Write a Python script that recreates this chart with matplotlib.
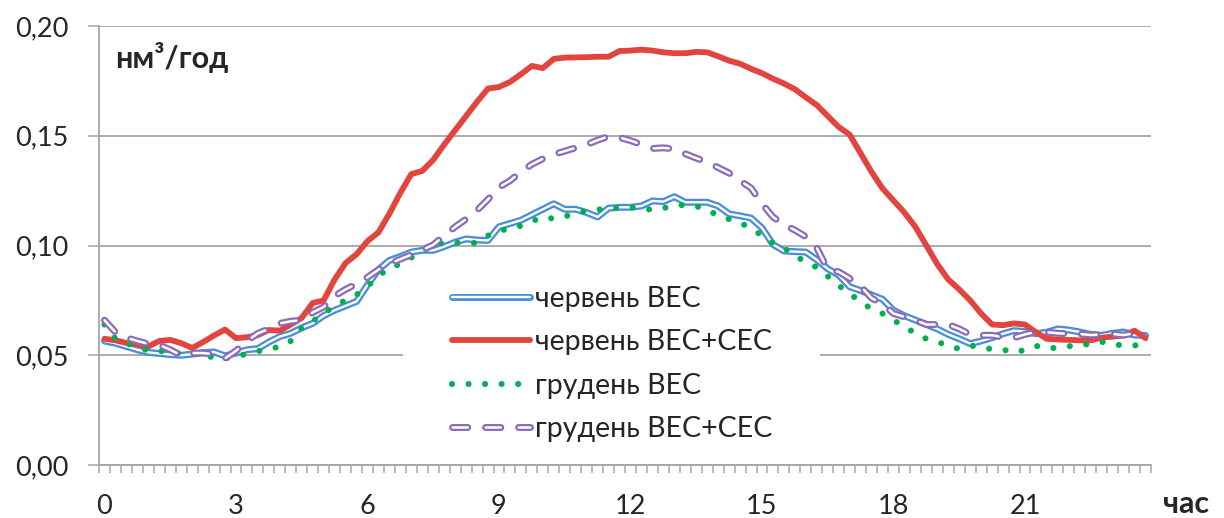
import numpy as np
import matplotlib
matplotlib.use("Agg")
import matplotlib.pyplot as plt
from matplotlib.patches import Rectangle
from matplotlib.ticker import FuncFormatter

plt.rcParams['font.family'] = ['Lato', 'Open Sans', 'DejaVu Sans']
plt.rcParams['lines.scale_dashes'] = False

# ---------------- data ----------------
hours = np.arange(96) * 0.25
xtick_hours = [0, 3, 6, 9, 12, 15, 18, 21]
xtick_labels = ['0', '3', '6', '9', '12', '15', '18', '21']
yticks = [0.00, 0.05, 0.10, 0.15, 0.20]
series_labels = ['червень ВЕС', 'червень ВЕС+СЕС', 'грудень ВЕС', 'грудень ВЕС+СЕС']

june_wes = [
    0.0565, 0.0555, 0.0540, 0.0525, 0.0513, 0.0508, 0.0503, 0.0500,
    0.0505, 0.0512, 0.0515, 0.0497, 0.0510, 0.0525, 0.0530, 0.0560,
    0.0585, 0.0600, 0.0625, 0.0645, 0.0680, 0.0705, 0.0725, 0.0745,
    0.0820, 0.0890, 0.0932, 0.0950, 0.0970, 0.0978, 0.0978, 0.0995,
    0.1015, 0.1030, 0.1025, 0.1023, 0.1085, 0.1100, 0.1115, 0.1140,
    0.1165, 0.1190, 0.1165, 0.1165, 0.1150, 0.1130, 0.1170, 0.1174,
    0.1174, 0.1180, 0.1203, 0.1200, 0.1222, 0.1197, 0.1197, 0.1197,
    0.1180, 0.1144, 0.1135, 0.1125, 0.1080, 0.1005, 0.0975, 0.0972,
    0.0970, 0.0935, 0.0894, 0.0865, 0.0812, 0.0795, 0.0775, 0.0755,
    0.0705, 0.0680, 0.0660, 0.0640, 0.0620, 0.0595, 0.0575, 0.0553,
    0.0565, 0.0580, 0.0598, 0.0612, 0.0608, 0.0598, 0.0605, 0.0620,
    0.0615, 0.0606, 0.0595, 0.0591, 0.0600, 0.0606, 0.0592, 0.0590,
]

june_wes_ses = [
    0.0575, 0.0568, 0.0556, 0.0548, 0.0540, 0.0565, 0.0570, 0.0555,
    0.0533, 0.0560, 0.0590, 0.0617, 0.0578, 0.0582, 0.0592, 0.0615,
    0.0612, 0.0640, 0.0670, 0.0738, 0.0750, 0.0845, 0.0920, 0.0960,
    0.1020, 0.1060, 0.1145, 0.1240, 0.1325, 0.1340, 0.1390, 0.1460,
    0.1525, 0.1590, 0.1655, 0.1715, 0.1722, 0.1745, 0.1780, 0.1818,
    0.1808, 0.1850, 0.1856, 0.1857, 0.1858, 0.1860, 0.1860, 0.1886,
    0.1888, 0.1892, 0.1888, 0.1880, 0.1876, 0.1876, 0.1882, 0.1880,
    0.1862, 0.1842, 0.1828, 0.1805, 0.1785, 0.1760, 0.1738, 0.1712,
    0.1675, 0.1640, 0.1590, 0.1540, 0.1505, 0.1420, 0.1335, 0.1260,
    0.1205, 0.1150, 0.1085, 0.1000, 0.0915, 0.0845, 0.0800, 0.0750,
    0.0690, 0.0640, 0.0637, 0.0645, 0.0640, 0.0605, 0.0575, 0.0572,
    0.0570, 0.0568, 0.0568, 0.0580, 0.0585, 0.0590, 0.0612, 0.0578,
]

dec_wes = [
    0.0640, 0.0575, 0.0555, 0.0535, 0.0522, 0.0520, 0.0512, 0.0508,
    0.0508, 0.0500, 0.0490, 0.0485, 0.0497, 0.0505, 0.0518, 0.0530,
    0.0538, 0.0565, 0.0625, 0.0655, 0.0690, 0.0725, 0.0750, 0.0775,
    0.0815, 0.0860, 0.0900, 0.0915, 0.0945, 0.0975, 0.1005, 0.1012,
    0.1013, 0.1010, 0.1012, 0.1045, 0.1068, 0.1076, 0.1090, 0.1110,
    0.1130, 0.1122, 0.1132, 0.1147, 0.1158, 0.1164, 0.1167, 0.1172,
    0.1174, 0.1170, 0.1162, 0.1170, 0.1182, 0.1185, 0.1180, 0.1158,
    0.1140, 0.1120, 0.1103, 0.1080, 0.1045, 0.1010, 0.0990, 0.0950,
    0.0928, 0.0900, 0.0860, 0.0818, 0.0780, 0.0745, 0.0710, 0.0690,
    0.0660, 0.0630, 0.0600, 0.0575, 0.0563, 0.0540, 0.0530, 0.0545,
    0.0535, 0.0528, 0.0526, 0.0512, 0.0525, 0.0543, 0.0530, 0.0535,
    0.0541, 0.0546, 0.0552, 0.0561, 0.0550, 0.0545, 0.0545, 0.0545,
]

dec_wes_ses = [
    0.0660, 0.0605, 0.0580, 0.0565, 0.0552, 0.0547, 0.0525, 0.0500,
    0.0510, 0.0510, 0.0505, 0.0486, 0.0520, 0.0565, 0.0600, 0.0620,
    0.0645, 0.0655, 0.0660, 0.0695, 0.0720, 0.0770, 0.0800, 0.0825,
    0.0855, 0.0890, 0.0917, 0.0938, 0.0958, 0.0980, 0.1003, 0.1045,
    0.1085, 0.1120, 0.1160, 0.1210, 0.1265, 0.1295, 0.1335, 0.1370,
    0.1395, 0.1415, 0.1430, 0.1445, 0.1460, 0.1480, 0.1497, 0.1492,
    0.1478, 0.1460, 0.1442, 0.1445, 0.1440, 0.1418, 0.1398, 0.1380,
    0.1355, 0.1330, 0.1295, 0.1262, 0.1190, 0.1130, 0.1095, 0.1070,
    0.1040, 0.0990, 0.0890, 0.0880, 0.0850, 0.0815, 0.0760, 0.0735,
    0.0690, 0.0675, 0.0660, 0.0640, 0.0640, 0.0640, 0.0620, 0.0595,
    0.0591, 0.0591, 0.0582, 0.0580, 0.0595, 0.0606, 0.0605, 0.0600,
    0.0598, 0.0597, 0.0592, 0.0595, 0.0597, 0.0592, 0.0600, 0.0595,
]

# ---------------- figure ----------------
W, H = 1224, 518
fig = plt.figure(figsize=(W / 100, H / 100), dpi=100)
ax = fig.add_axes([99 / W, 1 - 465 / H, (1151 - 99) / W, (465 - 26) / H])

grey = '#A6A6A6'
textc = '#262626'

ax.set_xlim(-0.125, 23.875)
ax.set_ylim(0, 0.20)
ax.set_axisbelow(True)
ax.yaxis.grid(True, color=grey, lw=1.3)
for s in ('top', 'right'):
    ax.spines[s].set_visible(False)
for s in ('left', 'bottom'):
    ax.spines[s].set_color(grey)
    ax.spines[s].set_linewidth(1.3)

ax.set_yticks(yticks)
ax.yaxis.set_major_formatter(FuncFormatter(lambda v, p: f"{v:.2f}".replace('.', ',')))
ax.tick_params(axis='y', length=8, width=1.1, color=grey, pad=14,
               labelsize=19.5, labelcolor=textc)

ax.set_xticks(xtick_hours)
ax.set_xticklabels(xtick_labels)
ax.set_xticks(np.arange(97) * 0.25 - 0.125, minor=True)
ax.tick_params(axis='x', which='major', length=0, pad=21, labelsize=19.5, labelcolor=textc)
ax.tick_params(axis='x', which='minor', length=5.8, width=1.1, color=grey)

# legend background (white box interrupting gridline)
ax.add_patch(Rectangle((403 / W, 1 - 460 / H), (820 - 403) / W, (460 - 268) / H,
                       transform=fig.transFigure, facecolor='white',
                       edgecolor='none', zorder=1))

c_blue = '#4A8FD6'
c_red = '#E2443E'
c_green = '#00B050'
c_purple = '#8B6BB8'

b_out, = ax.plot(hours, june_wes, color=c_blue, lw=5.0, solid_joinstyle='round',
                 solid_capstyle='round', zorder=3)
b_in, = ax.plot(hours, june_wes, color='white', lw=1.7, solid_joinstyle='round',
                solid_capstyle='round', zorder=3.01)
r_ln, = ax.plot(hours, june_wes_ses, color=c_red, lw=4.2, solid_joinstyle='round',
                solid_capstyle='round', zorder=4)
g_ln, = ax.plot(hours, dec_wes, color=c_green, lw=4.4, linestyle=(0, (0.01, 11.9)),
                dash_capstyle='round', zorder=5)
p_out, = ax.plot(hours, dec_wes_ses, color=c_purple, lw=5.0, linestyle=(0, (11, 12.8)),
                 dash_capstyle='round', dash_joinstyle='round', zorder=6)
p_in, = ax.plot(hours, dec_wes_ses, color='white', lw=1.8, linestyle=(0, (11, 12.8)),
                dash_capstyle='round', dash_joinstyle='round', zorder=6.01)

leg = ax.legend([(b_out, b_in), r_ln, g_ln, (p_out, p_in)], series_labels,
                loc='center left', bbox_to_anchor=(452 / W, 1 - 364 / H),
                bbox_transform=fig.transFigure, frameon=False, borderpad=0,
                borderaxespad=0, handlelength=2.75, handletextpad=0.18,
                labelspacing=0.6, fontsize=20.5)
for t in leg.get_texts():
    t.set_color(textc)
leg.set_zorder(10)

fig.text(115 / W, 1 - 68 / H, 'нм³/год', fontsize=22, fontweight='bold',
         ha='left', va='baseline', color=textc)
fig.text(1163 / W, 1 - 513 / H, 'час', fontsize=22, fontweight='bold',
         ha='left', va='baseline', color=textc)

fig.savefig('out.png', dpi=100)
